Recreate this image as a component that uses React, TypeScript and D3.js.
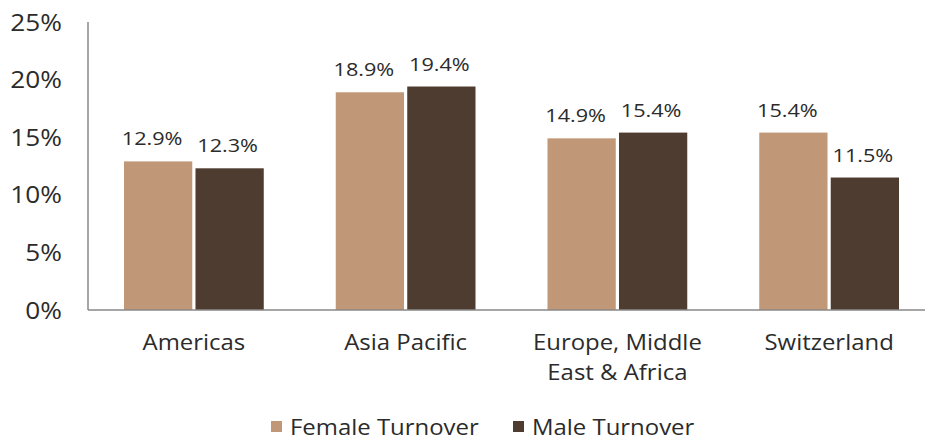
import * as d3 from 'd3';

const categories = ['Americas', 'Asia Pacific', 'Europe, Middle\nEast & Africa', 'Switzerland'];
const seriesNames = ['Female Turnover', 'Male Turnover'];
const femaleValues = [12.9, 18.9, 14.9, 15.4];
const maleValues = [12.3, 19.4, 15.4, 11.5];
const yTicks = [0, 5, 10, 15, 20, 25];
const colors = ['#C09878', '#4E3C30'];

const W = 925;
const H = 441;
const margin = { top: 22, right: -10, bottom: 131, left: 88 };
const FONT = '"Open Sans", "Noto Sans", sans-serif';
const SX = 1.14; // reference text is a bit wider than Open Sans
const TEXT = '#2b2b2b';

export default function App() {
  const innerW = W - margin.left - margin.right;
  const innerH = H - margin.top - margin.bottom;

  const x0 = d3.scaleBand<number>().domain(d3.range(categories.length)).range([0, innerW]).paddingInner(0.34).paddingOuter(0.17);
  const x1 = d3.scaleBand<number>().domain([0, 1]).range([0, x0.bandwidth()]).paddingInner(0.045);
  const y = d3.scaleLinear().domain([0, 25]).range([innerH, 0]);
  const series = [femaleValues, maleValues];

  return (
    <svg width={W} height={H} style={{ display: 'block', position: 'absolute', left: 0, top: 0, background: '#fff' }} fontFamily={FONT}>
      <g transform={`translate(${margin.left},${margin.top})`}>
        {yTicks.map((t) => (
          <text key={t} transform={`translate(-26,${y(t) + 8.5}) scale(${SX},1)`} textAnchor="end" fontSize={23} fill={TEXT}>
            {t}%
          </text>
        ))}
        {categories.map((c, i) =>
          series.map((vals, s) => {
            const bx = (x0(i) ?? 0) + (x1(s) ?? 0);
            const bw = x1.bandwidth();
            return (
              <g key={`${i}-${s}`}>
                <rect x={bx} y={y(vals[i])} width={bw} height={innerH - y(vals[i])} fill={colors[s]} />
                <text
                  transform={`translate(${bx + bw / 2 - (s === 0 ? 6 : 2)},${y(vals[i]) - 16}) scale(${SX},1)`}
                  textAnchor="middle"
                  fontSize={19}
                  fill={TEXT}
                >
                  {vals[i].toFixed(1)}%
                </text>
              </g>
            );
          })
        )}
        <line x1={0} x2={0} y1={0} y2={innerH} stroke="#888" strokeWidth={1.5} />
        <line x1={0} x2={innerW} y1={innerH} y2={innerH} stroke="#888" strokeWidth={1.5} />
        {categories.map((c, i) => (
          <g key={c} transform={`translate(${(x0(i) ?? 0) + x0.bandwidth() / 2},${innerH + 40})`}>
            {c.split('\n').map((line, k) => (
              <text key={k} transform={`translate(0,${k * 30}) scale(${SX},1)`} textAnchor="middle" fontSize={21} fill={TEXT}>
                {line}
              </text>
            ))}
          </g>
        ))}
      </g>
      <g transform="translate(271,421)">
        {seriesNames.map((n, s) => (
          <g key={n} transform={`translate(${s * 242},0)`}>
            <rect x={0} y={0} width={11} height={11} fill={colors[s]} />
            <text transform={`translate(19,13.5) scale(${SX},1)`} fontSize={21} fill={TEXT}>
              {n}
            </text>
          </g>
        ))}
      </g>
    </svg>
  );
}
